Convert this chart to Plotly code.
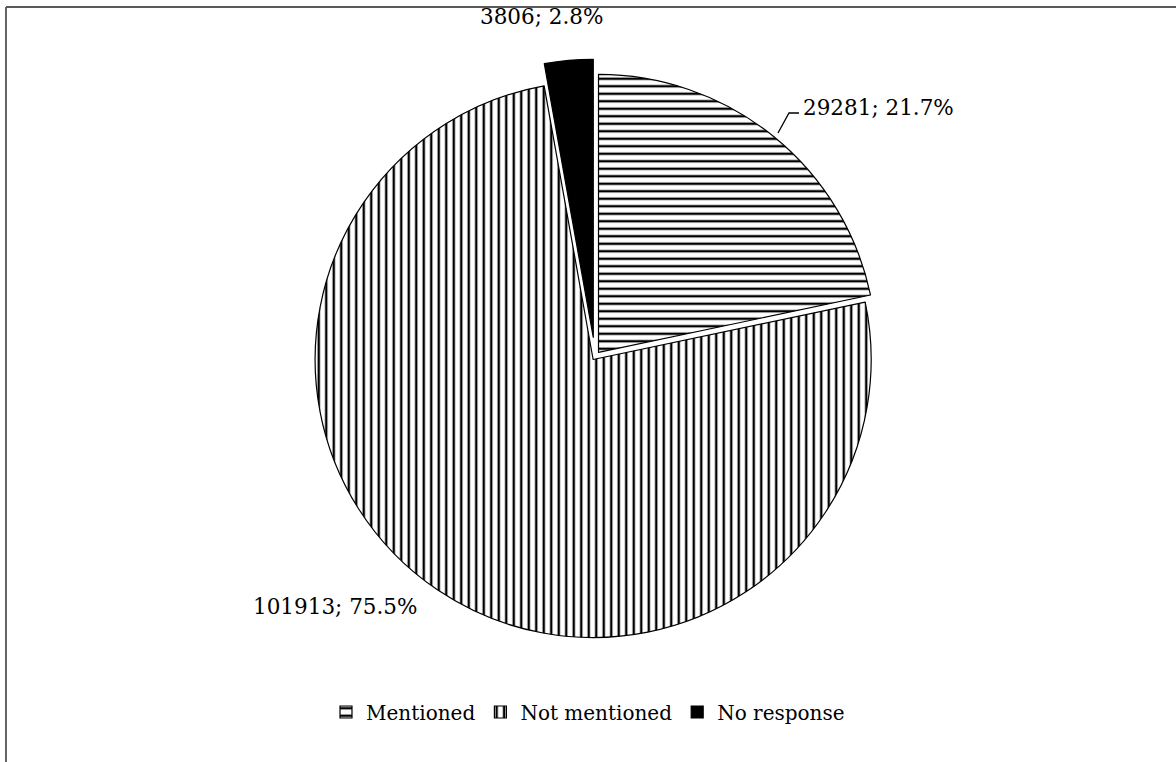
import plotly.graph_objects as go

labels = ["Mentioned", "Not mentioned", "No response"]
values = [29281, 101913, 3806]
pulls = [0.02, 0.012, 0.07]
patterns = ["-", "|", ""]
slice_colors = ["white", "white", "black"]

W, H = 1176, 762
FONT = "DejaVu Serif"


def px(x):
    return x / W


def py(y):
    return 1 - y / H


total = sum(values)
texts = [f"{v}; {v / total * 100:.1f}%" for v in values]

fig = go.Figure(
    go.Pie(
        labels=labels,
        values=values,
        sort=False,
        direction="clockwise",
        rotation=0,
        pull=pulls,
        textinfo="none",
        hoverinfo="label+value+percent",
        marker=dict(
            colors=slice_colors,
            line=dict(color="black", width=1.2),
            pattern=dict(
                shape=patterns,
                fgcolor=["black", "black", "black"],
                bgcolor=slice_colors,
                size=7.5,
                solidity=0.32,
            ),
        ),
        domain=dict(x=[px(297.5), px(892.5)], y=[py(655), py(58.5)]),
    )
)

label_font = dict(family=FONT, size=21.5, color="black")

# data labels
fig.add_annotation(x=px(801), y=py(107), xref="paper", yref="paper", font=label_font,
                   text=texts[0], showarrow=False, xanchor="left", yanchor="middle")
fig.add_annotation(x=px(419), y=py(606), xref="paper", yref="paper", font=label_font,
                   text=texts[1], showarrow=False, xanchor="right", yanchor="middle")
fig.add_annotation(x=px(541), y=py(16), xref="paper", yref="paper", font=label_font,
                   text=texts[2], showarrow=False, xanchor="center", yanchor="middle")

# leader line for first label
fig.add_shape(type="path", xref="paper", yref="paper",
              path=f"M {px(778)} {py(133)} L {px(789)} {py(113)} L {px(799)} {py(113)}",
              line=dict(color="black", width=1.3))

# chart frame (top and left edges visible)
fig.add_shape(type="line", xref="paper", yref="paper",
              x0=px(6), y0=py(7), x1=1, y1=py(7), line=dict(color="#222", width=1.5))
fig.add_shape(type="line", xref="paper", yref="paper",
              x0=px(6), y0=py(7), x1=px(6), y1=0, line=dict(color="#555", width=1.8))

fig.update_layout(
    width=W,
    height=H,
    margin=dict(l=0, r=0, t=0, b=0),
    paper_bgcolor="white",
    plot_bgcolor="white",
    font=dict(family=FONT, size=20, color="black"),
    showlegend=True,
    legend=dict(
        orientation="h",
        x=0.5,
        xanchor="center",
        y=py(712),
        yanchor="middle",
        font=dict(family=FONT, size=20, color="black"),
        itemwidth=30,
        traceorder="normal",
    ),
)

fig.write_html("out.html")
